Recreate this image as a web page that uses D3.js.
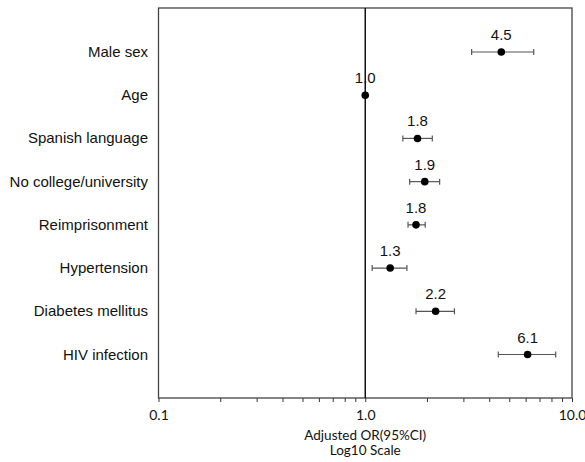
<!DOCTYPE html>
<html lang="en">
<head>
<meta charset="utf-8" />
<title>Adjusted OR forest plot</title>
<script src="https://d3js.org/d3.v7.min.js"></script>
<style>
  body { margin: 0; background: #fff; }
  .lbl { font-family: "Liberation Sans", Arial, sans-serif; font-size: 15px; fill: #111; }
  .axis text { font-family: Lato, "Open Sans", sans-serif; font-size: 14px; fill: #111; }
  .ttl { font-family: Lato, sans-serif; font-size: 13.5px; fill: #111; }
</style>
</head>
<body>
<script>
// data
var factors = ["Male sex", "Age", "Spanish language", "No college/university",
               "Reimprisonment", "Hypertension", "Diabetes mellitus", "HIV infection"];
var orValues = [4.5, 1.0, 1.8, 1.9, 1.8, 1.3, 2.2, 6.1];
var orPlot   = [4.55, 1.0, 1.79, 1.94, 1.76, 1.32, 2.19, 6.1];
var ciLow    = [3.27, 1.0, 1.52, 1.64, 1.61, 1.08, 1.76, 4.40];
var ciHigh   = [6.53, 1.0, 2.11, 2.29, 1.95, 1.59, 2.70, 8.34];
var tickVals = [0.1, 1, 10];
var tickLabels = ["0.1", "1.0", "10.0"];

var w = 585, h = 462;
var mLeft = 158.5, mRight = 572, mTop = 8, mBottom = 398;

var svg = d3.select("body").append("svg")
  .attr("width", w).attr("height", h);

var x = d3.scaleLog().domain([0.1, 10]).range([mLeft, mRight]);
var y = d3.scalePoint().domain(factors).range([52, 354.5]);

// minor ticks
var minor = [];
[0.1, 1].forEach(function(b){ for (var k = 2; k <= 9; k++) minor.push(b * k); });

svg.selectAll("line.minor").data(minor).enter().append("line")
  .attr("x1", function(d){ return x(d); }).attr("x2", function(d){ return x(d); })
  .attr("y1", mBottom).attr("y2", mBottom + 4)
  .attr("stroke", "#333").attr("stroke-width", 1);

var axis = d3.axisBottom(x).tickValues(tickVals)
  .tickFormat(function(d, i){ return tickLabels[i]; })
  .tickSize(4).tickPadding(8);
var ag = svg.append("g").attr("class", "axis")
  .attr("transform", "translate(0," + mBottom + ")").call(axis);
ag.select(".domain").remove();
ag.selectAll(".tick line").attr("stroke", "#333");

// plot frame
svg.append("rect").attr("x", mLeft).attr("y", mTop)
  .attr("width", mRight - mLeft).attr("height", mBottom - mTop)
  .attr("fill", "none").attr("stroke", "#444").attr("stroke-width", 1.3);

// reference line at 1
svg.append("line").attr("x1", x(1)).attr("x2", x(1))
  .attr("y1", mTop).attr("y2", mBottom)
  .attr("stroke", "#111").attr("stroke-width", 1.5);

// category labels
svg.selectAll("text.cat").data(factors).enter().append("text")
  .attr("class", "lbl").attr("text-anchor", "end")
  .attr("x", 148).attr("y", function(d){ return y(d) + 5; })
  .text(function(d){ return d; });

var rows = factors.map(function(f, i){
  return { f: f, v: orValues[i], p: orPlot[i], lo: ciLow[i], hi: ciHigh[i] };
});

var g = svg.selectAll("g.row").data(rows).enter().append("g");
g.filter(function(d){ return d.hi > d.lo; }).each(function(d){
  var s = d3.select(this), yy = y(d.f);
  s.append("line").attr("x1", x(d.lo)).attr("x2", x(d.hi))
    .attr("y1", yy).attr("y2", yy).attr("stroke", "#555").attr("stroke-width", 1.2);
  [d.lo, d.hi].forEach(function(v){
    s.append("line").attr("x1", x(v)).attr("x2", x(v))
      .attr("y1", yy - 3).attr("y2", yy + 3).attr("stroke", "#555").attr("stroke-width", 1.2);
  });
});
g.append("circle").attr("cx", function(d){ return x(d.p); })
  .attr("cy", function(d){ return y(d.f); }).attr("r", 3.8).attr("fill", "#000");
g.append("text").attr("class", "lbl").attr("text-anchor", "middle")
  .attr("x", function(d){ return x(d.p); })
  .attr("y", function(d){ return y(d.f) - 12; })
  .text(function(d){ return d.v.toFixed(1); });

// axis titles
svg.append("text").attr("class", "ttl").attr("x", x(1)).attr("y", 440)
  .attr("text-anchor", "middle").text("Adjusted OR(95%CI)");
svg.append("text").attr("class", "ttl").attr("x", x(1)).attr("y", 455)
  .attr("text-anchor", "middle").text("Log10 Scale");
</script>
</body>
</html>
